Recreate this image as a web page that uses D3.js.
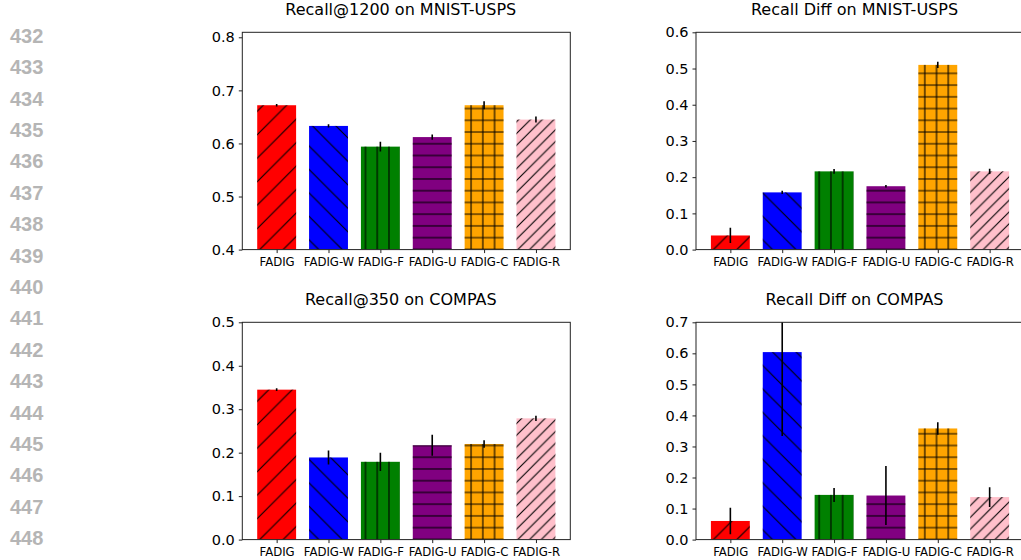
<!DOCTYPE html>
<html>
<head>
<meta charset="utf-8">
<script src="https://cdn.jsdelivr.net/npm/d3@7"></script>
<style>
  body { margin: 0; background: #fff; }
  text { font-family: "DejaVu Sans", sans-serif; }
  .xlab text { font-family: "DejaVu Sans Condensed", "DejaVu Sans", sans-serif; font-stretch: condensed; }
</style>
</head>
<body>
<div id="chart"></div>
<script>
// Categories and styles per method
const methods = ["FADIG", "FADIG-W", "FADIG-F", "FADIG-U", "FADIG-C", "FADIG-R"];
const barColors = ["#ff0000", "#0000ff", "#008000", "#800080", "#ffa500", "#ffc0cb"];
const hatches = ["ne", "nw", "v", "h", "grid", "ne2"];

// Values
const mnistRecall = [0.672, 0.633, 0.594, 0.612, 0.672, 0.645];
const mnistRecallErr = [0.0025, 0.003, 0.009, 0.005, 0.0075, 0.0057];
const mnistDiff = [0.039, 0.158, 0.216, 0.175, 0.510, 0.216];
const mnistDiffErr = [0.021, 0.0046, 0.0065, 0.0037, 0.0088, 0.007];
const compasRecall = [0.345, 0.189, 0.179, 0.217, 0.220, 0.279];
const compasRecallErr = [0.003, 0.016, 0.021, 0.024, 0.0088, 0.006];
const compasDiff = [0.060, 0.604, 0.144, 0.142, 0.358, 0.137];
const compasDiffErr = [0.043, 0.27, 0.0225, 0.095, 0.0204, 0.0316];

// Tick labels
const ticksRecallMnist = [0.4, 0.5, 0.6, 0.7, 0.8];
const ticksDiffMnist = [0.0, 0.1, 0.2, 0.3, 0.4, 0.5, 0.6];
const ticksRecallCompas = [0.0, 0.1, 0.2, 0.3, 0.4, 0.5];
const ticksDiffCompas = [0.0, 0.1, 0.2, 0.3, 0.4, 0.5, 0.6, 0.7];

// Line numbers down the left margin
const lineNumbers = d3.range(432, 449);

const W = 1021, H = 560;
const svg = d3.select("#chart").append("svg")
  .attr("width", W)
  .attr("height", H);

svg.append("rect").attr("width", W).attr("height", H).attr("fill", "#fff");

// Hatch patterns (spacing like matplotlib's 6 lines per unit)
const unit = 70.4;
const s1 = unit / 6, s2 = unit / 3;
const defs = svg.append("defs");

function addPattern(id, size, draw) {
  const p = defs.append("pattern")
    .attr("id", id)
    .attr("patternUnits", "userSpaceOnUse")
    .attr("width", size)
    .attr("height", size);
  draw(p, size);
}
const hatchStroke = p => p.attr("stroke", "#000").attr("stroke-width", 1.1);

addPattern("ne", s2, (p, s) => {
  p.append("path").attr("d", `M${-s},${s} L${s},${-s} M0,${2 * s} L${2 * s},0 M0,${s} L${s},0`).call(hatchStroke);
});
addPattern("ne2", s1, (p, s) => {
  p.append("path").attr("d", `M${-s},${s} L${s},${-s} M0,${2 * s} L${2 * s},0 M0,${s} L${s},0`).call(hatchStroke);
});
addPattern("nw", s2, (p, s) => {
  p.append("path").attr("d", `M0,0 L${s},${s} M${-s},0 L${s},${2 * s} M0,${-s} L${2 * s},${s}`).call(hatchStroke);
});
addPattern("v", s1, (p, s) => {
  p.append("path").attr("d", `M${s / 2},0 V${s}`).call(hatchStroke);
});
addPattern("h", s1, (p, s) => {
  p.append("path").attr("d", `M0,${s / 2} H${s}`).call(hatchStroke);
});
addPattern("grid", s1, (p, s) => {
  p.append("path").attr("d", `M${s / 2},0 V${s} M0,${s / 2} H${s}`).call(hatchStroke);
});

// Line numbers
svg.append("g")
  .selectAll("text")
  .data(lineNumbers)
  .enter()
  .append("text")
  .attr("x", 10)
  .attr("y", (d, i) => 42.7 + i * 31.4)
  .attr("fill", "#b5b5b5")
  .style("font-family", "'Liberation Sans', Arial, sans-serif")
  .style("font-weight", "bold")
  .style("font-size", "20px")
  .text(d => d);

// Panels
const panels = [
  { title: "Recall@1200 on MNIST-USPS", values: mnistRecall, errs: mnistRecallErr, domain: [0.4, 0.8094], ticks: ticksRecallMnist, x: 242.3, y: 32.3 },
  { title: "Recall Diff on MNIST-USPS", values: mnistDiff, errs: mnistDiffErr, domain: [0, 0.6], ticks: ticksDiffMnist, x: 696, y: 32.3 },
  { title: "Recall@350 on COMPAS", values: compasRecall, errs: compasRecallErr, domain: [0, 0.5], ticks: ticksRecallCompas, x: 242.3, y: 322.3 },
  { title: "Recall Diff on COMPAS", values: compasDiff, errs: compasDiffErr, domain: [0, 0.7], ticks: ticksDiffCompas, x: 696, y: 322.3 }
];
const pw = 328, ph = 217.3;
const barWidth = 0.75;

panels.forEach((pan, k) => {
  const g = svg.append("g").attr("transform", `translate(${pan.x},${pan.y})`);

  const x = d3.scaleLinear().domain([-0.6625, 5.6625]).range([0, pw]);
  const y = d3.scaleLinear().domain(pan.domain).range([ph, 0]);

  g.append("clipPath").attr("id", "clip" + k)
    .append("rect").attr("width", pw).attr("height", ph);

  const plot = g.append("g").attr("clip-path", `url(#clip${k})`);
  const idx = d3.range(methods.length);

  // bars
  plot.selectAll(".bar")
    .data(idx)
    .enter()
    .append("rect")
    .attr("class", "bar")
    .attr("x", i => x(i - barWidth / 2))
    .attr("width", x(barWidth) - x(0))
    .attr("y", i => y(pan.values[i]))
    .attr("height", i => y(pan.domain[0]) - y(pan.values[i]))
    .attr("fill", i => barColors[i]);

  // hatches
  plot.selectAll(".hatch")
    .data(idx)
    .enter()
    .append("rect")
    .attr("class", "hatch")
    .attr("x", i => x(i - barWidth / 2))
    .attr("width", x(barWidth) - x(0))
    .attr("y", i => y(pan.values[i]))
    .attr("height", i => y(pan.domain[0]) - y(pan.values[i]))
    .attr("fill", i => `url(#${hatches[i]})`);

  // error bars
  plot.selectAll(".err")
    .data(idx)
    .enter()
    .append("line")
    .attr("class", "err")
    .attr("x1", i => x(i))
    .attr("x2", i => x(i))
    .attr("y1", i => y(pan.values[i] - pan.errs[i]))
    .attr("y2", i => y(pan.values[i] + pan.errs[i]))
    .attr("stroke", "#000")
    .attr("stroke-width", 1.6);

  // y axis
  const yAxis = g.append("g")
    .call(d3.axisLeft(y).tickValues(pan.ticks).tickFormat(d3.format(".1f")).tickSize(3.5).tickPadding(4));
  yAxis.select(".domain").remove();
  yAxis.selectAll("line").attr("stroke", "#222");
  yAxis.selectAll("text").style("font-size", "14.5px").attr("fill", "#000");

  // x axis
  const xAxis = g.append("g")
    .attr("class", "xlab")
    .attr("transform", `translate(0,${ph})`)
    .call(d3.axisBottom(x).tickValues(idx).tickFormat(i => methods[i]).tickSize(3.5).tickPadding(4));
  xAxis.select(".domain").remove();
  xAxis.selectAll("line").attr("stroke", "#222");
  xAxis.selectAll("text").style("font-size", "13px").attr("fill", "#000");

  // frame
  g.append("rect")
    .attr("width", pw)
    .attr("height", ph)
    .attr("fill", "none")
    .attr("stroke", "#222")
    .attr("stroke-width", 1);

  // title
  g.append("text")
    .attr("x", pw / 2 - 5.5)
    .attr("y", -17.5)
    .attr("text-anchor", "middle")
    .style("font-size", "16px")
    .attr("fill", "#000")
    .text(pan.title);
});
</script>
</body>
</html>
